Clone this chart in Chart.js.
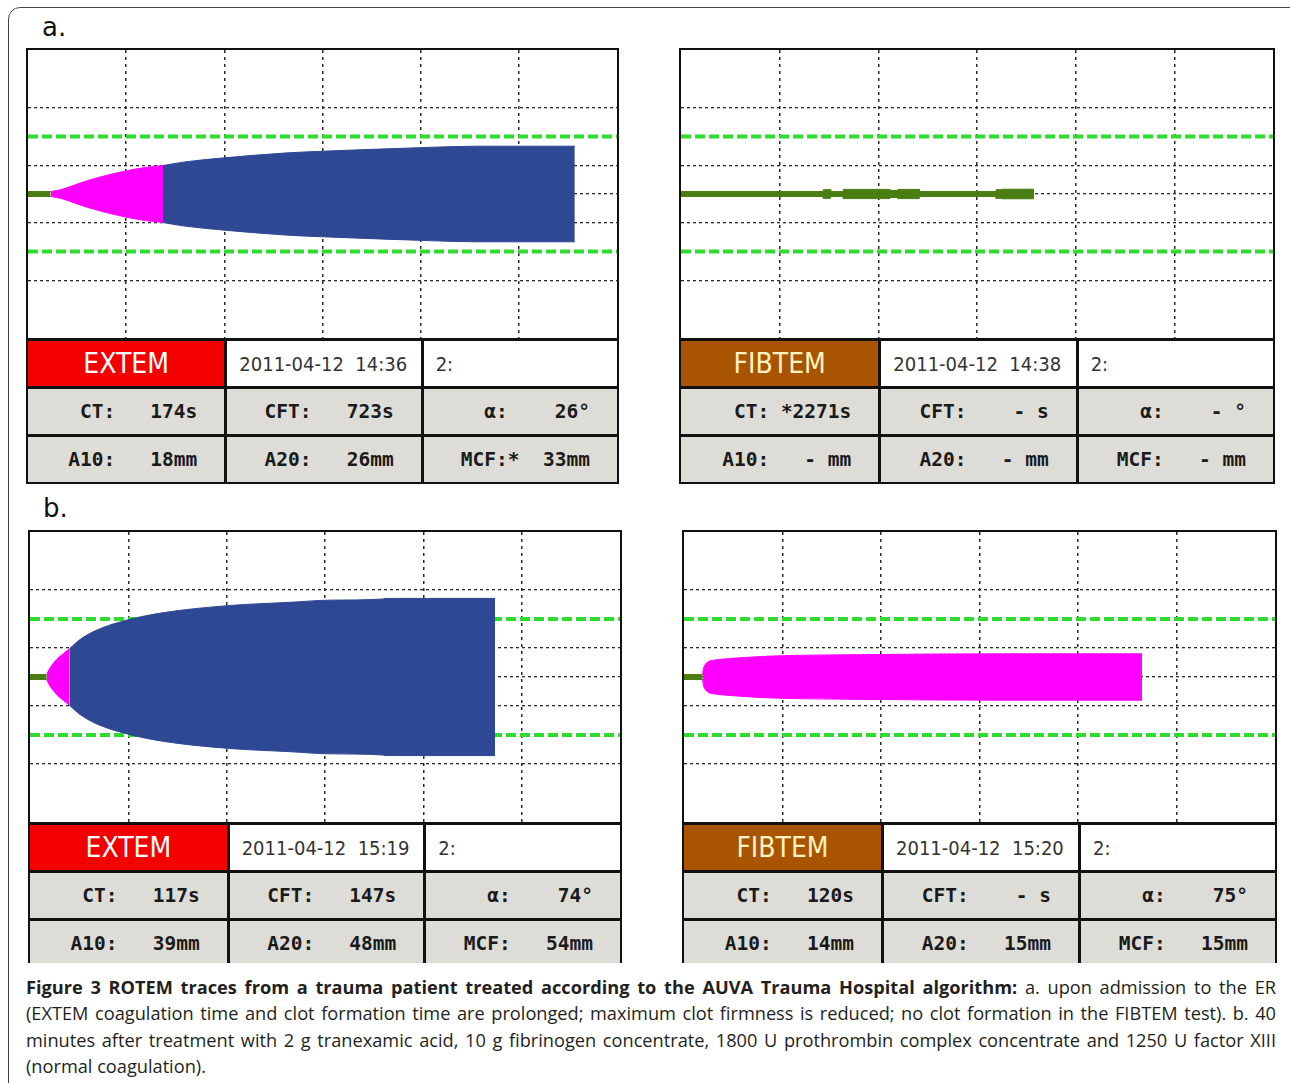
<!DOCTYPE html>
<html>
<head>
<meta charset="utf-8">
<script src="https://cdn.jsdelivr.net/npm/chart.js@4.4.1/dist/chart.umd.min.js"></script>
<style>
html, body { margin: 0; padding: 0; background: #fff; }
body { width: 1290px; height: 1083px; position: relative; overflow: hidden; font-family: "DejaVu Sans", sans-serif; }
#frame { position: absolute; left: 8px; top: 7px; width: 1400px; height: 1200px; border: 1.5px solid #444; border-radius: 12px; }
#figure { position: absolute; left: 0; top: 0; width: 1290px; height: 963px; overflow: hidden; }
.lbl { position: absolute; font-size: 26px; line-height: 27px; color: #111; }
.panel { position: absolute; box-sizing: border-box; border: 2px solid #111; background: #fff; }
.plot canvas { display: block; }
.row { display: flex; box-sizing: border-box; height: 48px; border-top: 3px solid #111; }
.cell { box-sizing: border-box; width: 33.3333%; flex: none; display: flex; align-items: center; overflow: hidden; white-space: pre; }
.cell + .cell { border-left: 3px solid #111; }
.head { justify-content: center; font-family: "DejaVu Sans Condensed", "DejaVu Sans", sans-serif; font-stretch: condensed; font-size: 28px; }
.stamp { padding-left: 12px; font-family: "DejaVu Sans Condensed", "DejaVu Sans", sans-serif; font-stretch: condensed; font-size: 20px; color: #333; }
.stat { justify-content: flex-end; padding-right: 27px; background: #dddcd6; font-family: "DejaVu Sans Mono", monospace; font-weight: bold; font-size: 19.5px; color: #1a1a1a; }
#caption { position: absolute; left: 26px; top: 974px; width: 1250px; font-family: "Open Sans", sans-serif; font-size: 18.2px; line-height: 26.4px; color: #231f20; }
#caption .ln { white-space: nowrap; }
#caption .j { text-align: justify; text-align-last: justify; }
</style>
</head>
<body>
<div id="frame"></div>
<div id="figure">
  <div class="lbl" style="left:42px;top:14px">a.</div>
  <div class="lbl" style="left:43px;top:495px">b.</div>
</div>
<div id="caption">
  <div class="ln j"><b>Figure 3 ROTEM traces from a trauma patient treated according to the AUVA Trauma Hospital algorithm:</b> a. upon admission to the ER</div>
  <div class="ln j">(EXTEM coagulation time and clot formation time are prolonged; maximum clot firmness is reduced; no clot formation in the FIBTEM test). b. 40</div>
  <div class="ln j">minutes after treatment with 2 g tranexamic acid, 10 g fibrinogen concentrate, 1800 U prothrombin complex concentrate and 1250 U factor XIII</div>
  <div class="ln">(normal coagulation).</div>
</div>
<script>
// grid of the ROTEM display: time in minutes, amplitude in mm (plotted +/- half)
const gridMinutes = [10, 20, 30, 40, 50]
const gridMm = [-30, -10, 0, 10, 30]
const limitMm = [20, -20]

const green = '#4a7d12'
const magenta = '#ff00ff'
const blue = '#2f4893'
const limitGreen = '#2edc2e'

// a. EXTEM 14:36
const aExtemCtT = [0, 2.31]
const aExtemCtA = [1.7, 1.7]
const aExtemCfT = [2.31, 3.4, 5.1, 6.8, 9.8, 11.9, 13.75]
const aExtemCfA = [1.7, 3.1, 7.1, 10.8, 15.8, 18.4, 19.8]
const aExtemMainT = [13.75, 16, 20, 26.5, 30, 35, 40, 45.8, 55.7]
const aExtemMainA = [19.8, 22.3, 25.1, 28.6, 29.7, 31, 32.2, 33.2, 33.2]

// a. FIBTEM 14:38 (no clot, only the baseline with small blips)
const aFibCtT = [0, 14.42, 14.42, 15.17, 15.17, 16.45, 16.45, 21.18, 21.18, 21.99, 21.99, 24.15, 24.15, 31.93, 31.93, 32.5, 32.5, 35.78]
const aFibCtA = [1.7, 1.7, 3.0, 3.0, 1.7, 1.7, 3.2, 3.2, 2.4, 2.4, 3.2, 3.2, 1.7, 1.7, 3.0, 3.0, 3.3, 3.3]

// b. EXTEM 15:19
const bExtemCtT = [0, 1.7]
const bExtemCtA = [1.7, 1.7]
const bExtemCfT = [1.7, 1.85, 2.03, 2.7, 3.4, 4.0]
const bExtemCfA = [1.7, 4, 6.2, 12, 16.2, 19.4]
const bExtemMainT = [4.0, 5.1, 6.8, 9.9, 13.6, 20.3, 26.4, 30.5, 35.9, 36.1, 47.3]
const bExtemMainA = [19.4, 25.9, 32.4, 39.3, 44.4, 49.3, 51.5, 53, 53.8, 54.2, 54.2]

// b. FIBTEM 15:20
const bFibCtT = [0, 1.89]
const bFibCtA = [1.7, 1.7]
const bFibCfT = [1.89, 1.95, 2.1, 2.3, 2.6, 3.2, 4.0, 6, 9.05, 17.5, 32.2, 46.5]
const bFibCfA = [1.7, 5, 8, 9.8, 11, 11.8, 12.4, 13.4, 14.5, 15.4, 16, 16]

// table texts
const aExtemStats = ['CT:   174s', 'CFT:   723s', 'α:    26°', 'A10:   18mm', 'A20:   26mm', 'MCF:*  33mm']
const aFibStats = ['CT: *2271s', 'CFT:    - s', 'α:    - °', 'A10:   - mm', 'A20:   - mm', 'MCF:   - mm']
const bExtemStats = ['CT:   117s', 'CFT:   147s', 'α:    74°', 'A10:   39mm', 'A20:   48mm', 'MCF:   54mm']
const bFibStats = ['CT:   120s', 'CFT:    - s', 'α:    75°', 'A10:   14mm', 'A20:   15mm', 'MCF:   15mm']

function addBand(list, t, amp, color, smooth) {
  let up = list.length
  let common = {
    backgroundColor: color, borderColor: color, borderWidth: 1,
    pointRadius: 0, tension: smooth ? 0.4 : 0,
    cubicInterpolationMode: smooth ? 'monotone' : 'default', order: 0
  }
  list.push(Object.assign({data: t.map((x, i) => ({x: x, y: amp[i] / 2})), fill: false}, common))
  list.push(Object.assign({data: t.map((x, i) => ({x: x, y: -amp[i] / 2})), fill: {target: up}}, common))
}

function addLimits(list) {
  limitMm.forEach(v => {
    list.push({
      data: [{x: 0, y: v}, {x: 60, y: v}],
      borderColor: limitGreen, borderWidth: 4, borderDash: [10, 4],
      pointRadius: 0, fill: false, order: 5
    })
  })
}

function makePanel(box, plotH, name, headBg, headFg, stamp, stats, bands) {
  let panel = document.createElement('div')
  panel.className = 'panel'
  panel.style.left = box[0] + 'px'
  panel.style.top = box[1] + 'px'
  panel.style.width = (box[2] + 4) + 'px'

  let plot = document.createElement('div')
  plot.className = 'plot'
  let canvas = document.createElement('canvas')
  canvas.width = box[2]
  canvas.height = plotH
  plot.appendChild(canvas)
  panel.appendChild(plot)

  let rows = [[name, stamp, '2:'], stats.slice(0, 3), stats.slice(3, 6)]
  rows.forEach((r, ri) => {
    let row = document.createElement('div')
    row.className = 'row'
    r.forEach((txt, ci) => {
      let c = document.createElement('div')
      if (ri == 0) {
        c.className = 'cell ' + (ci == 0 ? 'head' : 'stamp')
        if (ci == 0) { c.style.background = headBg; c.style.color = headFg }
      } else {
        c.className = 'cell stat'
      }
      c.textContent = txt
      row.appendChild(c)
    })
    panel.appendChild(row)
  })
  document.getElementById('figure').appendChild(panel)

  let datasets = []
  bands.forEach(b => addBand(datasets, b[0], b[1], b[2], b[3]))
  addLimits(datasets)

  new Chart(canvas, {
    type: 'line',
    data: {datasets: datasets},
    options: {
      responsive: false,
      animation: false,
      events: [],
      layout: {padding: 0, autoPadding: false},
      plugins: {legend: {display: false}, tooltip: {enabled: false}},
      scales: {
        x: {
          type: 'linear', min: 0, max: 60,
          afterBuildTicks: ax => { ax.ticks = gridMinutes.map(v => ({value: v})) },
          ticks: {display: false},
          grid: {color: '#2a2a2a', lineWidth: 1.5, drawTicks: false},
          border: {display: false, dash: [3, 4]}
        },
        y: {
          type: 'linear', min: -50, max: 50,
          afterBuildTicks: ax => { ax.ticks = gridMm.map(v => ({value: v})) },
          ticks: {display: false},
          grid: {color: '#2a2a2a', lineWidth: 1.3, drawTicks: false},
          border: {display: false, dash: [3, 3]}
        }
      }
    }
  })
}

makePanel([26, 48, 589], 288, 'EXTEM', '#f40000', '#fff', '2011-04-12  14:36', aExtemStats, [
  [aExtemCtT, aExtemCtA, green, false],
  [aExtemCfT, aExtemCfA, magenta, true],
  [aExtemMainT, aExtemMainA, blue, true]
])
makePanel([679, 48, 592], 288, 'FIBTEM', '#a85400', '#fff3c4', '2011-04-12  14:38', aFibStats, [
  [aFibCtT, aFibCtA, green, false]
])
makePanel([28, 530, 590], 290, 'EXTEM', '#f40000', '#fff', '2011-04-12  15:19', bExtemStats, [
  [bExtemCtT, bExtemCtA, green, false],
  [bExtemCfT, bExtemCfA, magenta, true],
  [bExtemMainT, bExtemMainA, blue, true]
])
makePanel([682, 530, 591], 290, 'FIBTEM', '#a85400', '#fff3c4', '2011-04-12  15:20', bFibStats, [
  [bFibCtT, bFibCtA, green, false],
  [bFibCfT, bFibCfA, magenta, true]
])
</script>
</body>
</html>
